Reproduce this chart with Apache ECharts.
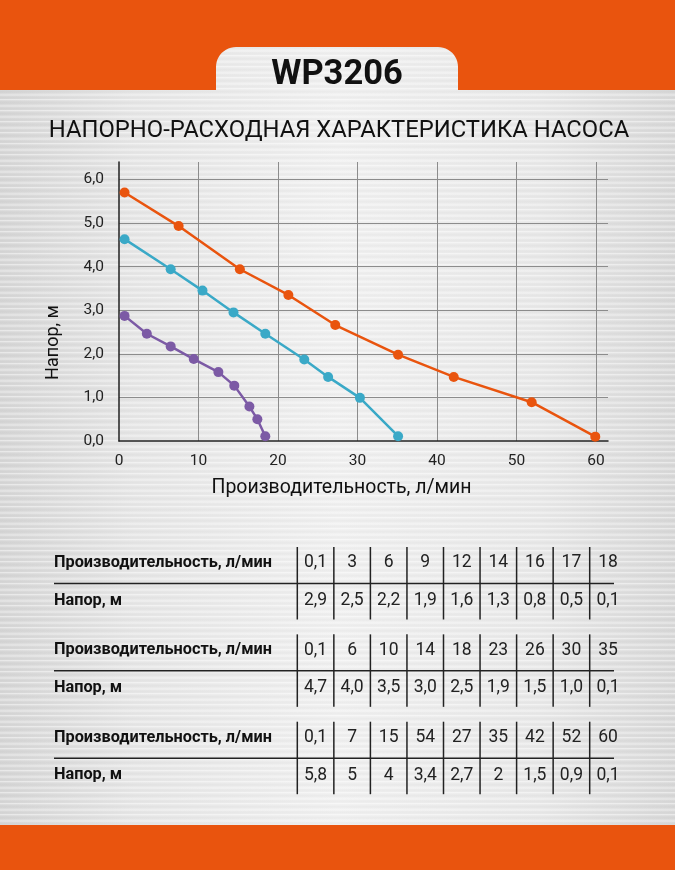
<!DOCTYPE html>
<html>
<head>
<meta charset="utf-8">
<script src="https://cdn.jsdelivr.net/npm/echarts@6/dist/echarts.min.js"></script>
<style>
html,body{margin:0;padding:0;}
body{
  width:675px;height:870px;overflow:hidden;
  background:
    repeating-linear-gradient(180deg, rgba(255,255,255,0.6) 0px, rgba(255,255,255,0) 2px, rgba(0,0,0,0.025) 4px, rgba(255,255,255,0) 5px, rgba(255,255,255,0.4) 7px, rgba(0,0,0,0.02) 9px, rgba(255,255,255,0) 11px),
    linear-gradient(90deg, #d6d6d6 0%, #e6e6e6 20%, #f0f0f0 50%, #e8e8e8 80%, #d8d8d8 100%);
}
#main{width:675px;height:870px;}
</style>
</head>
<body>
<div id="main"></div>
<script>
// точки на графике
var purpleFlow = [0.7, 3.5, 6.5, 9.4, 12.5, 14.5, 16.4, 17.4, 18.4];
var purpleHead = [2.87, 2.46, 2.17, 1.88, 1.58, 1.27, 0.79, 0.50, 0.11];
var tealFlow = [0.7, 6.5, 10.5, 14.4, 18.4, 23.3, 26.3, 30.3, 35.1];
var tealHead = [4.63, 3.94, 3.45, 2.95, 2.46, 1.87, 1.47, 0.99, 0.11];
var orangeFlow = [0.7, 7.5, 15.2, 21.3, 27.2, 35.1, 42.1, 51.9, 59.9];
var orangeHead = [5.70, 4.93, 3.94, 3.35, 2.66, 1.98, 1.47, 0.89, 0.10];

// таблицы под графиком
var rowFlowName = 'Производительность, л/мин';
var rowHeadName = 'Напор, м';
var table1Flow = ['0,1','3','6','9','12','14','16','17','18'];
var table1Head = ['2,9','2,5','2,2','1,9','1,6','1,3','0,8','0,5','0,1'];
var table2Flow = ['0,1','6','10','14','18','23','26','30','35'];
var table2Head = ['4,7','4,0','3,5','3,0','2,5','1,9','1,5','1,0','0,1'];
var table3Flow = ['0,1','7','15','54','27','35','42','52','60'];
var table3Head = ['5,8','5','4','3,4','2,7','2','1,5','0,9','0,1'];

var ORANGE = '#e9540e';
var TEAL = '#3aa9c7';
var PURPLE = '#7c5aa5';
var FONT = 'Roboto, "Liberation Sans", sans-serif';

var pairs = function(xs, ys){
  var out = [];
  for(var i=0;i<xs.length;i++){ out.push([xs[i], ys[i]]); }
  return out;
};

var curve = function(name, color, xs, ys){
  return {
    name: name, type: 'line', data: pairs(xs, ys),
    symbol: 'circle', symbolSize: 10, smooth: false,
    lineStyle: {color: color, width: 2.5},
    itemStyle: {color: color},
    animation: false, silent: true
  };
};

//оранжевая шапка с вырезом под название
var headerPoints = function(){
  var pts = [[0,0],[675,0],[675,90],[458,90]];
  var r = 20, k;
  for(k=0;k<=12;k++){ var a = k/12*Math.PI/2; pts.push([438 + r*Math.cos(a), 67 - r*Math.sin(a)]); }
  for(k=0;k<=12;k++){ var b = Math.PI/2 + k/12*Math.PI/2; pts.push([236 + r*Math.cos(b), 67 - r*Math.sin(b)]); }
  pts.push([216,90]); pts.push([0,90]);
  return pts;
};

//рисуем таблицы
var tableGraphics = function(){
  var els = [];
  var tables = [[table1Flow, table1Head], [table2Flow, table2Head], [table3Flow, table3Head]];
  var x0 = 297.3, cw = 36.55;
  for(var t=0;t<tables.length;t++){
    var top = 547 + t*87.35;
    els.push({type:'text', x:54, y: top+16, style:{text: rowFlowName, font:'bold 16.3px '+FONT, fill:'#111', verticalAlign:'middle'}});
    els.push({type:'text', x:54, y: top+53.5, style:{text: rowHeadName, font:'bold 16.3px '+FONT, fill:'#111', verticalAlign:'middle'}});
    els.push({type:'line', shape:{x1:54, y1:top+36.5, x2:614, y2:top+36.5}, style:{stroke:'#222', lineWidth:1.5}});
    for(var i=0;i<tables[t][0].length;i++){
      var xl = x0 + i*cw;
      els.push({type:'line', shape:{x1:xl, y1:top, x2:xl, y2:top+72.5}, style:{stroke:'#222', lineWidth:1.5}});
      els.push({type:'text', x: xl+cw/2, y: top+16, style:{text: tables[t][0][i], font:'17.5px '+FONT, fill:'#222', align:'center', verticalAlign:'middle'}});
      els.push({type:'text', x: xl+cw/2, y: top+53.5, style:{text: tables[t][1][i], font:'17.5px '+FONT, fill:'#222', align:'center', verticalAlign:'middle'}});
    }
  }
  return els;
};

var myChart = echarts.init(document.getElementById('main'), null, {renderer:'canvas'});
var graphics = [
  {type:'polygon', shape:{points: headerPoints()}, style:{fill:ORANGE}, z:1},
  {type:'rect', shape:{x:0, y:825, width:675, height:45}, style:{fill:ORANGE}, z:1},
  {type:'text', x:337, y:75, style:{text:'WP3206', font:'bold 34.5px '+FONT, fill:'#111', align:'center', verticalAlign:'middle'}, z:2},
  {type:'text', x:339, y:131, style:{text:'НАПОРНО-РАСХОДНАЯ ХАРАКТЕРИСТИКА НАСОСА', font:'23.8px '+FONT, fill:'#111', align:'center', verticalAlign:'middle'}, z:2}
].concat(tableGraphics());

var gridColors = ['transparent','#8c8c8c','#8c8c8c','#8c8c8c','#8c8c8c','#8c8c8c','#8c8c8c','transparent'];

var option = {
  backgroundColor: 'transparent',
  animation: false,
  graphic: graphics,
  grid: {left:119, right:67, top:162, bottom:429, containLabel:false},
  xAxis: {
    type:'value', min:0, max:61.5, interval:10,
    name:'Производительность, л/мин', nameLocation:'middle', nameGap:37,
    nameTextStyle:{fontFamily:FONT, fontSize:19.5, color:'#111', padding:[0,44,0,0]},
    axisLine:{show:true, lineStyle:{color:'#222', width:1.5}},
    axisTick:{show:false},
    axisLabel:{fontFamily:FONT, fontSize:15.5, color:'#222', margin:12,
      formatter:function(v){ return (v % 10 === 0) ? String(v) : ''; }},
    splitLine:{show:true, lineStyle:{color:gridColors, width:1}}
  },
  yAxis: {
    type:'value', min:0, max:6.4, interval:1,
    name:'Напор, м', nameLocation:'middle', nameGap:57, nameRotate:90,
    nameTextStyle:{fontFamily:FONT, fontSize:18, color:'#111', padding:[0,82,0,0]},
    axisLine:{show:true, lineStyle:{color:'#222', width:1.5}},
    axisTick:{show:false},
    axisLabel:{fontFamily:FONT, fontSize:15.5, color:'#222', margin:15,
      formatter:function(v){ return (Math.abs(v - Math.round(v)) < 1e-9) ? v.toFixed(1).replace('.', ',') : ''; }},
    splitLine:{show:true, lineStyle:{color:gridColors, width:1}}
  },
  series: [
    curve('orange', ORANGE, orangeFlow, orangeHead),
    curve('teal', TEAL, tealFlow, tealHead),
    curve('purple', PURPLE, purpleFlow, purpleHead)
  ]
};
myChart.setOption(option);
window.addEventListener('resize', function(){ myChart.resize(); });
</script>
</body>
</html>
